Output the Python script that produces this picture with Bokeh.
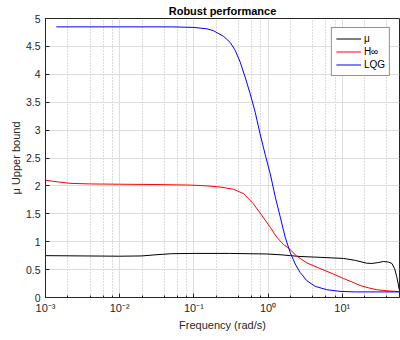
from bokeh.plotting import figure
from bokeh.models import Legend, LegendItem, FixedTicker, LogTicker
from bokeh.embed import file_html
from bokeh.resources import INLINE

# --- data ---
mu_f = [0.001, 0.01, 0.02, 0.03, 0.05, 0.1, 0.3, 0.96, 1.5, 2.0, 2.7, 5.0, 10.4, 15.0, 21.3, 25.0, 30.0, 35.7, 42.0, 46.6, 50.6, 54.0, 56.8, 58.5]
mu_v = [0.75, 0.74, 0.745, 0.765, 0.785, 0.79, 0.79, 0.78, 0.765, 0.75, 0.735, 0.72, 0.70, 0.665, 0.615, 0.61, 0.625, 0.645, 0.635, 0.61, 0.52, 0.38, 0.24, 0.14]

hinf_f = [0.001, 0.0015, 0.0022, 0.004, 0.01, 0.03, 0.09, 0.15, 0.226, 0.342, 0.468, 0.633, 0.824, 1.067, 1.31, 1.61, 1.87, 2.44, 3.33, 5.0, 7.6, 10.4, 14.0, 17.4, 23.0, 29.1, 40.0, 58.5]
hinf_v = [2.10, 2.07, 2.045, 2.035, 2.03, 2.025, 2.015, 2.0, 1.98, 1.94, 1.86, 1.68, 1.47, 1.26, 1.08, 0.95, 0.89, 0.74, 0.62, 0.52, 0.42, 0.34, 0.27, 0.215, 0.17, 0.14, 0.12, 0.105]

lqg_f = [0.0014, 0.01, 0.05, 0.1, 0.15, 0.184, 0.251, 0.309, 0.36, 0.42, 0.49, 0.574, 0.67, 0.78, 0.914, 1.067, 1.25, 1.46, 1.70, 1.98, 2.32, 2.70, 3.33, 4.30, 6.17, 9.3, 15.0, 30.0, 58.5]
lqg_v = [4.85, 4.85, 4.85, 4.84, 4.815, 4.78, 4.68, 4.57, 4.43, 4.22, 3.95, 3.65, 3.32, 2.93, 2.56, 2.22, 1.80, 1.44, 1.08, 0.81, 0.60, 0.45, 0.30, 0.20, 0.14, 0.11, 0.10, 0.10, 0.10]

x_ticks = [1e-3, 1e-2, 1e-1, 1e0, 1e1]
x_labels = ["10\u207b\u00b3", "10\u207b\u00b2", "10\u207b\u00b9", "10\u2070", "10\u00b9"]
y_ticks = [0, 0.5, 1, 1.5, 2, 2.5, 3, 3.5, 4, 4.5, 5]
y_labels = ["0", "0.5", "1", "1.5", "2", "2.5", "3", "3.5", "4", "4.5", "5"]

FONT = "Liberation Sans"
AX = "#262626"

p = figure(width=400, height=340, x_axis_type="log", x_range=(1e-3, 59), y_range=(0, 5),
           output_backend="svg", toolbar_location=None,
           min_border_left=45, min_border_right=1, min_border_top=17, min_border_bottom=43)

p.title.text = "Robust performance"
p.title.text_font = FONT
p.title.text_font_size = "11px"
p.title.text_font_style = "bold"
p.title.align = "center"
p.title.text_color = "#000000"
p.title.standoff = 4
p.title.offset = 0

p.outline_line_color = AX
p.outline_line_width = 1

def style_axis(ax):
    ax.axis_line_color = AX
    ax.major_tick_line_color = AX
    ax.minor_tick_line_color = AX
    ax.major_tick_in = 4
    ax.major_tick_out = 0
    ax.minor_tick_in = 2
    ax.minor_tick_out = 0
    ax.major_label_text_font = FONT
    ax.major_label_text_font_size = "10.5px"
    ax.major_label_text_color = AX
    ax.axis_label_text_font = FONT
    ax.axis_label_text_font_size = "11px"
    ax.axis_label_text_font_style = "normal"
    ax.axis_label_text_color = AX

xax = p.xaxis[0]
style_axis(xax)
xax.ticker = LogTicker(desired_num_ticks=5)
xax.major_label_overrides = {t: l for t, l in zip(x_ticks, x_labels)}
xax.major_label_text_font_size = "11px"
xax.axis_label = "Frequency (rad/s)"
xax.major_label_standoff = 4
xax.axis_label_standoff = 2

yax = p.yaxis[0]
style_axis(yax)
yax.ticker = FixedTicker(ticks=y_ticks)
yax.major_label_overrides = {t: l for t, l in zip(y_ticks, y_labels)}
yax.axis_label = "\u03bc Upper bound"
yax.major_label_standoff = 5
yax.axis_label_standoff = 1
yax.minor_tick_line_color = None

p.xgrid.grid_line_color = "#dedede"
p.xgrid.minor_grid_line_color = "#b4b4b4"
p.xgrid.minor_grid_line_dash = "1 2"
p.ygrid.grid_line_color = "#dedede"
p.ygrid.ticker = FixedTicker(ticks=y_ticks)

r1 = p.line(mu_f, mu_v, line_color="#000000", line_width=1)
r2 = p.line(hinf_f, hinf_v, line_color="#ff0000", line_width=1)
r3 = p.line(lqg_f, lqg_v, line_color="#0000ff", line_width=1)

legend = Legend(items=[LegendItem(label="\u03bc", renderers=[r1]),
                       LegendItem(label="H\u221e", renderers=[r2]),
                       LegendItem(label="LQG", renderers=[r3])],
                location="top_right", margin=9, padding=4, spacing=0,
                glyph_width=25, glyph_height=13, label_standoff=3,
                label_text_font=FONT, label_text_font_size="10px", label_text_color="#000000",
                border_line_color=AX, border_line_width=1, background_fill_alpha=1,
                label_height=13)
p.add_layout(legend, "center")

open("out.html", "w").write(file_html(p, INLINE))
